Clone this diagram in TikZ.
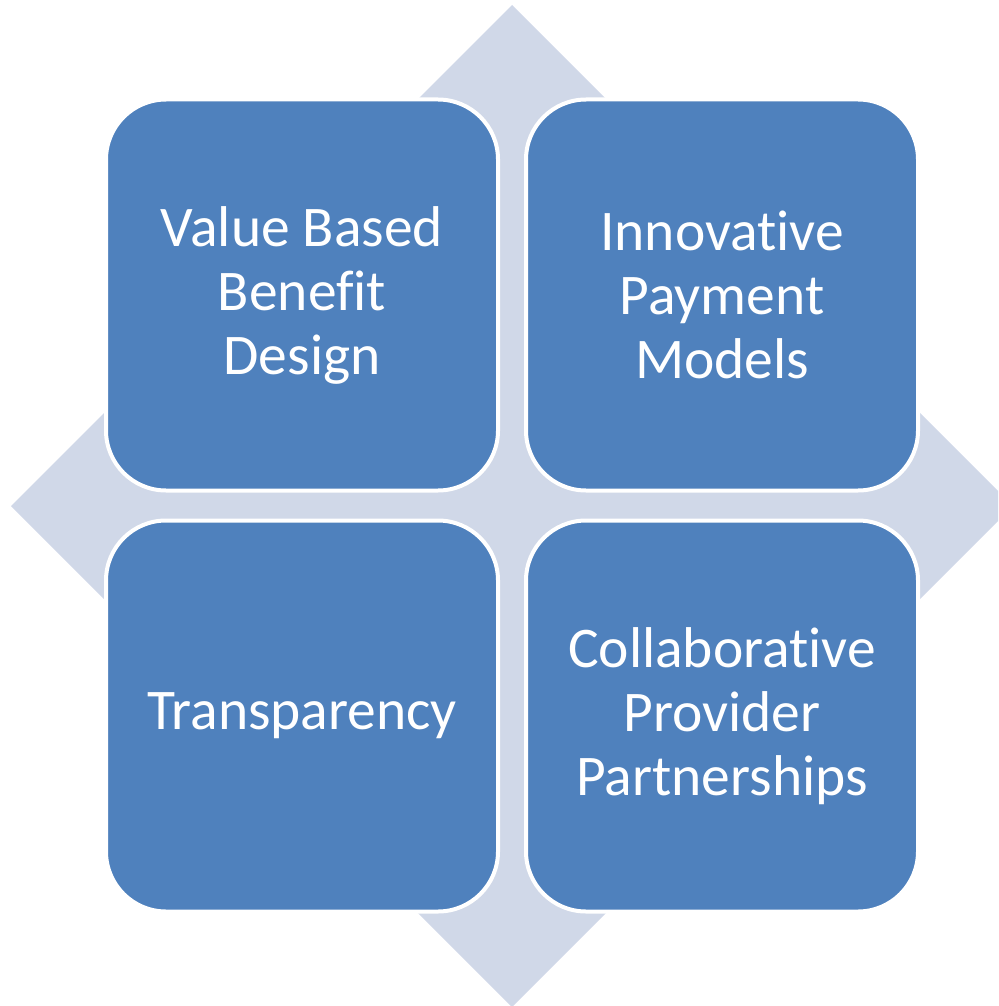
\documentclass[tikz,border=0pt]{standalone}
\usepackage{fontspec}
\setmainfont{Carlito}[Ligatures=NoCommon]
\definecolor{boxblue}{HTML}{4F81BD}
\definecolor{diamondfill}{HTML}{D0D8E8}
\begin{document}
\begin{tikzpicture}[x=1pt,y=-1pt,
  quad/.style={draw=white, line width=4pt, fill=boxblue, rounded corners=60pt,
    minimum width=392pt, minimum height=391pt, text=white, align=center,
    font=\fontsize{57.5}{64}\selectfont, inner sep=0pt}]
\useasboundingbox (0,0) rectangle (998,1006);
\clip (0,0) rectangle (998,1006);
\fill[diamondfill] (512,5) -- (1013,506) -- (512,1007) -- (11,506) -- cycle;
\node[quad] (tl) at (302,295) {Value Based\\Benefit\\Design};
\node[quad] (tr) at (722,295) {Innovative\\Payment\\Models};
\node[quad] (bl) at (302,716) {Transparency};
\node[quad] (br) at (722,716) {Collaborative\\Provider\\Partnerships};
\end{tikzpicture}
\end{document}
